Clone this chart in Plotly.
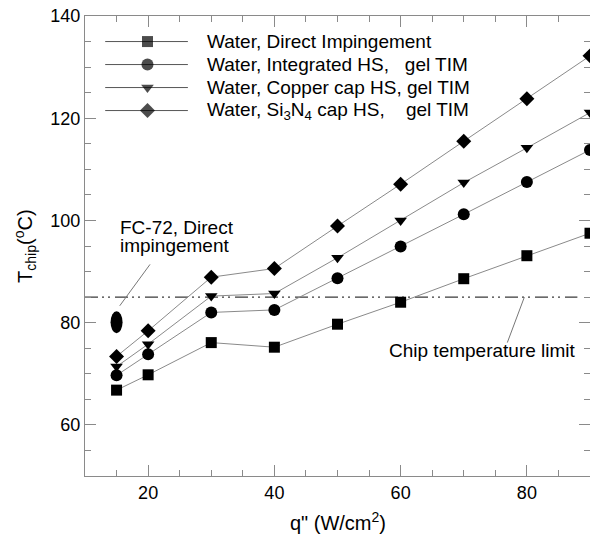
import plotly.graph_objects as go

# ---------------- data ----------------
q = [15, 20, 30, 40, 50, 60, 70, 80, 90]
t_direct = [66.8, 69.8, 76.1, 75.2, 79.7, 84.0, 88.6, 93.1, 97.5]
t_integrated = [69.7, 73.8, 82.0, 82.5, 88.7, 94.9, 101.2, 107.5, 113.8]
t_copper = [71.4, 75.8, 85.2, 85.7, 92.7, 100.0, 107.4, 114.2, 121.1]
t_si3n4 = [73.4, 78.4, 88.9, 90.6, 98.9, 107.1, 115.5, 123.8, 132.2]
fc72_q = [15]
fc72_t = [80.1]
limit_q = [10, 88]
limit_t = [85, 85]

series_names = [
    "Water, Direct Impingement",
    "Water, Integrated HS,\u00a0\u00a0\u00a0gel TIM",
    "Water, Copper cap HS, gel TIM",
    "Water, Si<sub>3</sub>N<sub>4</sub> cap HS,\u00a0\u00a0\u00a0\u00a0gel TIM",
]
x_ticks = [20, 40, 60, 80]
y_ticks = [60, 80, 100, 120, 140]

# ---------------- style ----------------
FONT = "Liberation Sans, Arial, sans-serif"
LINE_C = "#8a8a8a"
AXIS_C = "#8a8a8a"
symbols = ["square", "circle", "triangle-down", "diamond"]
msizes = [11, 12, 11, 11.5]
series = [t_direct, t_integrated, t_copper, t_si3n4]

fig = go.Figure()

# chip temperature limit line
fig.add_trace(go.Scatter(
    x=limit_q, y=limit_t, mode="lines",
    line=dict(color="#3a3a3a", width=1.3, dash="13px,4px,2px,4px,2px,5px"),
    showlegend=False, hoverinfo="skip"))

for ys, sym, ms in zip(series, symbols, msizes):
    fig.add_trace(go.Scatter(
        x=q, y=ys, mode="lines+markers",
        line=dict(color=LINE_C, width=1),
        marker=dict(symbol=sym, size=ms, color="black", line=dict(width=0)),
        showlegend=False))

# FC-72 point: elliptical marker (trace + pixel-sized ellipse anchored to the data)
fig.add_trace(go.Scatter(
    x=fc72_q, y=fc72_t, mode="markers",
    marker=dict(symbol="circle", size=11, color="black", line=dict(width=0)),
    showlegend=False))
for fx, fy in zip(fc72_q, fc72_t):
    fig.add_shape(type="circle", xref="x", yref="y",
                  xsizemode="pixel", ysizemode="pixel",
                  xanchor=fx, yanchor=fy, x0=-6, x1=6, y0=-11, y1=11,
                  fillcolor="black", line=dict(width=0), layer="above")

# ---------------- custom legend (layout constants) ----------------
LEG_X0, LEG_XM, LEG_X1, LEG_TX = 13.2, 19.9, 26.3, 29.0
LEG_TOP, LEG_STEP = 135.0, 4.5
for i, (name, sym, ms) in enumerate(zip(series_names, symbols, msizes)):
    ty = LEG_TOP - i * LEG_STEP
    fig.add_trace(go.Scatter(
        x=[LEG_X0, LEG_XM, LEG_X1], y=[ty, ty, ty], mode="lines+markers",
        line=dict(color="#555555", width=1),
        marker=dict(symbol=sym, size=[0, ms, 0], color="black", line=dict(width=0)),
        showlegend=False, hoverinfo="skip"))
    fig.add_annotation(x=LEG_TX, y=ty, xref="x", yref="y", text=name,
                       showarrow=False, xanchor="left", yanchor="middle",
                       font=dict(size=19, color="black", family=FONT))

# text annotations
fig.add_annotation(x=15.3, y=98.6, xref="x", yref="y", text="FC-72, Direct",
                   showarrow=False, xanchor="left", yanchor="middle",
                   font=dict(size=19, color="black", family=FONT))
fig.add_annotation(x=15.3, y=95.1, xref="x", yref="y", text="impingement",
                   showarrow=False, xanchor="left", yanchor="middle",
                   font=dict(size=19, color="black", family=FONT))
fig.add_annotation(x=57.8, y=74.6, xref="x", yref="y", text="Chip temperature limit",
                   showarrow=False, xanchor="left", yanchor="middle",
                   font=dict(size=19, color="black", family=FONT))
# leader lines
fig.add_shape(type="line", x0=20.3, y0=91.4, x1=15.5, y1=83.3, xref="x", yref="y",
              line=dict(color="#777777", width=1))
fig.add_shape(type="line", x0=79.6, y0=85.0, x1=76.9, y1=76.1, xref="x", yref="y",
              line=dict(color="#777777", width=1))

# axis titles
fig.add_annotation(x=-0.119, y=0.5, xref="paper", yref="paper",
                   text="T<sub>chip</sub>(<sup>o</sup>C)", textangle=-90,
                   showarrow=False, xanchor="center", yanchor="middle",
                   font=dict(size=20, color="black", family=FONT))
fig.add_annotation(x=0.5, y=-0.099, xref="paper", yref="paper",
                   text="q\" (W/cm<sup>2</sup>)",
                   showarrow=False, xanchor="center", yanchor="middle",
                   font=dict(size=20, color="black", family=FONT))

axis_common = dict(
    showgrid=False, zeroline=False, showline=True, linecolor=AXIS_C, linewidth=1,
    mirror="ticks", ticks="inside", ticklen=11, tickwidth=1, tickcolor=AXIS_C,
    tickfont=dict(size=18, color="black", family=FONT),
)
fig.update_xaxes(range=[10, 90], tickvals=x_ticks, ticktext=[str(v) for v in x_ticks],
                 minor=dict(dtick=5, tick0=0, ticks="inside", ticklen=6, tickcolor=AXIS_C),
                 **axis_common)
fig.update_yaxes(range=[50, 140], tickvals=y_ticks, ticktext=[str(v) for v in y_ticks],
                 minor=dict(dtick=5, tick0=0, ticks="inside", ticklen=6, tickcolor=AXIS_C),
                 **axis_common)

fig.update_layout(
    width=590, height=540,
    margin=dict(l=85, r=0, t=16, b=64),
    paper_bgcolor="white", plot_bgcolor="white",
    font=dict(family=FONT, color="black"),
    showlegend=False,
)

fig.write_html("out.html", config={"displayModeBar": False},
               post_script="document.body.style.margin='0px';document.body.style.overflow='hidden';")
